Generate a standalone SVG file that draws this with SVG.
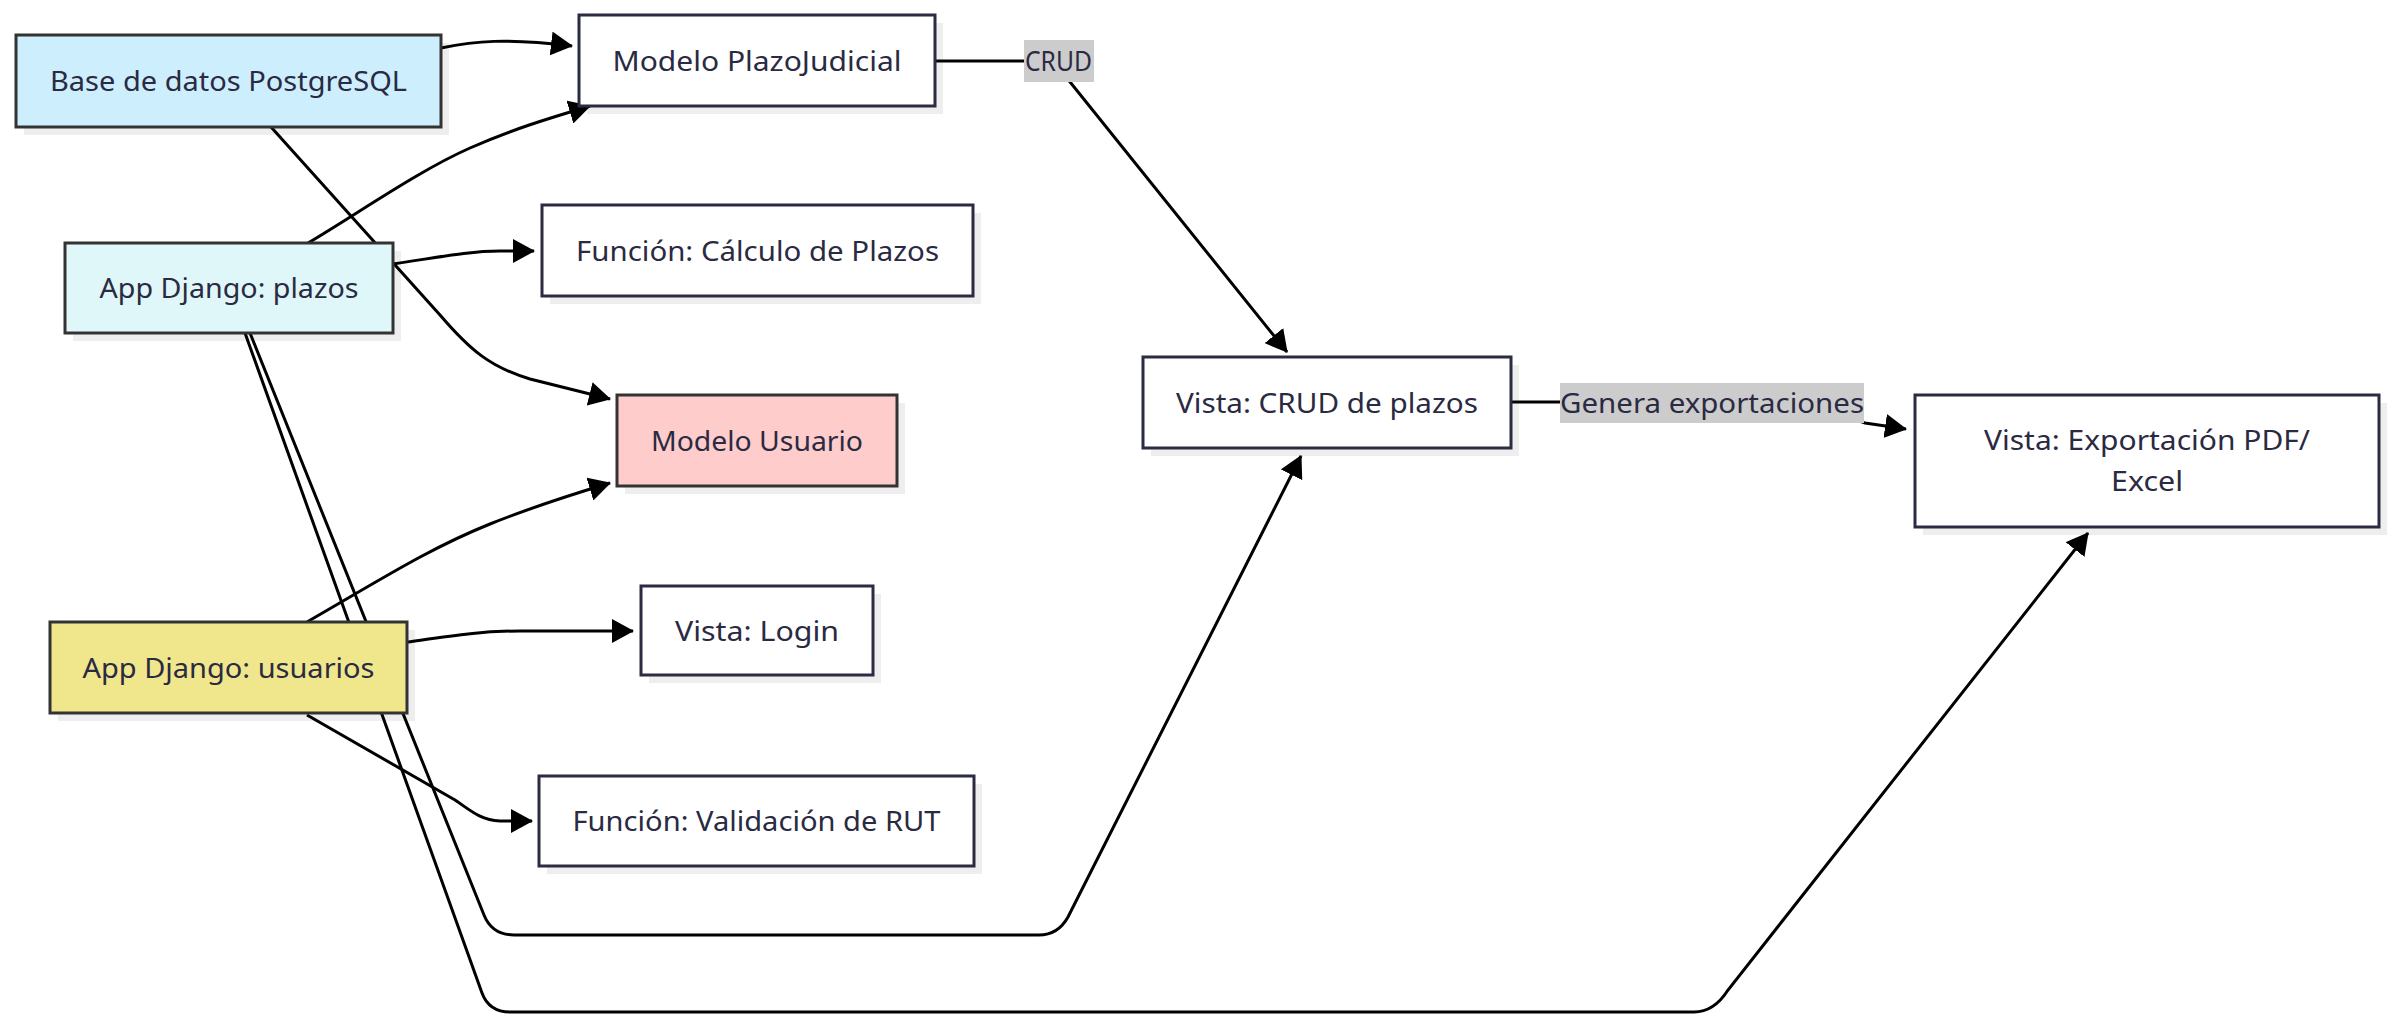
<svg xmlns="http://www.w3.org/2000/svg" width="2395" height="1029" viewBox="0 0 2395 1029">
<defs>
<marker id="arr" markerUnits="userSpaceOnUse" viewBox="0 0 22 24" refX="21" refY="12" markerWidth="22" markerHeight="24" orient="auto">
<path d="M0,0 L22,12 L0,24 z" fill="#000"/>
</marker>
</defs>
<style>
.shadow{fill:#eeeeee;}
.n rect.box{stroke-width:3;}
.plain{fill:#ffffff;stroke:#2b2b42;}
.col{stroke:#333333;}
.t{font-family:"Noto Sans","Open Sans","DejaVu Sans",sans-serif;font-size:28px;fill:#2a2a42;text-anchor:middle;}
.lt{font-family:"Noto Sans","Open Sans","DejaVu Sans",sans-serif;font-size:28px;fill:#2a2a42;text-anchor:start;}
.e{fill:none;stroke:#000;stroke-width:3;}
.lbl{fill:#cccccc;}
</style>
<rect width="2395" height="1029" fill="#ffffff"/>

<g id="nodes-shadows">
<rect class="shadow" x="24" y="43" width="425" height="92"/>
<rect class="shadow" x="587" y="23" width="356" height="91"/>
<rect class="shadow" x="550" y="213" width="431" height="91"/>
<rect class="shadow" x="73" y="251" width="328" height="90"/>
<rect class="shadow" x="625" y="403" width="280" height="91"/>
<rect class="shadow" x="58" y="630" width="357" height="91"/>
<rect class="shadow" x="649" y="594" width="232" height="89"/>
<rect class="shadow" x="547" y="784" width="435" height="90"/>
<rect class="shadow" x="1151" y="365" width="368" height="91"/>
<rect class="shadow" x="1923" y="403" width="464" height="132"/>
</g>

<g id="connectors">
<path class="e" d="M441,48 C475,41 505,38 572,46" marker-end="url(#arr)"/>
<path class="e" d="M271,127 L440,315 C470,350 490,367 530,379 L610,399" marker-end="url(#arr)"/>
<path class="e" d="M308,243 C360,212 420,170 470,148 C510,130 550,118 590,106" marker-end="url(#arr)"/>
<path class="e" d="M393,264 C440,257 470,251 500,251 L534,251" marker-end="url(#arr)"/>
<path class="e" d="M250,333 L484,915 Q492,935 514,935 L1039,935 Q1058,935 1068,917 L1301,456" marker-end="url(#arr)"/>
<path class="e" d="M245,333 L482,993 Q489,1012 510,1012 L1694,1012 Q1714,1012 1728,990 L2088,533" marker-end="url(#arr)"/>
<path class="e" d="M307,622 C380,580 430,548 490,524 C530,508 570,495 610,483" marker-end="url(#arr)"/>
<path class="e" d="M408,642 C450,636 480,631 520,631 L633,631" marker-end="url(#arr)"/>
<path class="e" d="M307,715 L455,800 C470,810 480,820 500,821 L532,821" marker-end="url(#arr)"/>
<path class="e" d="M935,61 L1045,61 Q1053,61 1058,67 L1287,352" marker-end="url(#arr)"/>
<path class="e" d="M1511,402 L1830,402 C1845,402 1850,420 1865,423 L1906,429" marker-end="url(#arr)"/>
</g>

<g id="edge-labels">
<g id="label-crud">
<rect class="lbl" x="1024" y="40" width="70" height="42"/>
<text class="lt" x="1025" y="71" textLength="67" lengthAdjust="spacingAndGlyphs">CRUD</text>
</g>
<g id="label-genera">
<rect class="lbl" x="1560" y="383" width="304" height="40"/>
<text class="lt" x="1560" y="413" textLength="304" lengthAdjust="spacingAndGlyphs">Genera exportaciones</text>
</g>
</g>

<g id="db" class="n">
<rect class="box col" x="16" y="35" width="425" height="92" fill="#cdeefd"/>
<text class="t" x="228.5" y="91" textLength="357" lengthAdjust="spacingAndGlyphs">Base de datos PostgreSQL</text>
</g>
<g id="modelo-plazo" class="n">
<rect class="box plain" x="579" y="15" width="356" height="91"/>
<text class="t" x="757" y="71" textLength="289" lengthAdjust="spacingAndGlyphs">Modelo PlazoJudicial</text>
</g>
<g id="funcion-calculo" class="n">
<rect class="box plain" x="542" y="205" width="431" height="91"/>
<text class="t" x="757.5" y="261" textLength="363" lengthAdjust="spacingAndGlyphs">Función: Cálculo de Plazos</text>
</g>
<g id="app-plazos" class="n">
<rect class="box col" x="65" y="243" width="328" height="90" fill="#e0f7f9"/>
<text class="t" x="229" y="298" textLength="259" lengthAdjust="spacingAndGlyphs">App Django: plazos</text>
</g>
<g id="modelo-usuario" class="n">
<rect class="box col" x="617" y="395" width="280" height="91" fill="#ffcccc"/>
<text class="t" x="757" y="451" textLength="212" lengthAdjust="spacingAndGlyphs">Modelo Usuario</text>
</g>
<g id="app-usuarios" class="n">
<rect class="box col" x="50" y="622" width="357" height="91" fill="#f0e68c"/>
<text class="t" x="228.5" y="678" textLength="292" lengthAdjust="spacingAndGlyphs">App Django: usuarios</text>
</g>
<g id="vista-login" class="n">
<rect class="box plain" x="641" y="586" width="232" height="89"/>
<text class="t" x="757" y="641" textLength="164" lengthAdjust="spacingAndGlyphs">Vista: Login</text>
</g>
<g id="funcion-rut" class="n">
<rect class="box plain" x="539" y="776" width="435" height="90"/>
<text class="t" x="756.5" y="831" textLength="368" lengthAdjust="spacingAndGlyphs">Función: Validación de RUT</text>
</g>
<g id="vista-crud" class="n">
<rect class="box plain" x="1143" y="357" width="368" height="91"/>
<text class="t" x="1327" y="413" textLength="302" lengthAdjust="spacingAndGlyphs">Vista: CRUD de plazos</text>
</g>
<g id="vista-export" class="n">
<rect class="box plain" x="1915" y="395" width="464" height="132"/>
<text class="t" x="2147" y="450" textLength="326" lengthAdjust="spacingAndGlyphs">Vista: Exportación PDF/</text>
<text class="t" x="2147" y="491" textLength="72" lengthAdjust="spacingAndGlyphs">Excel</text>
</g>
</svg>
